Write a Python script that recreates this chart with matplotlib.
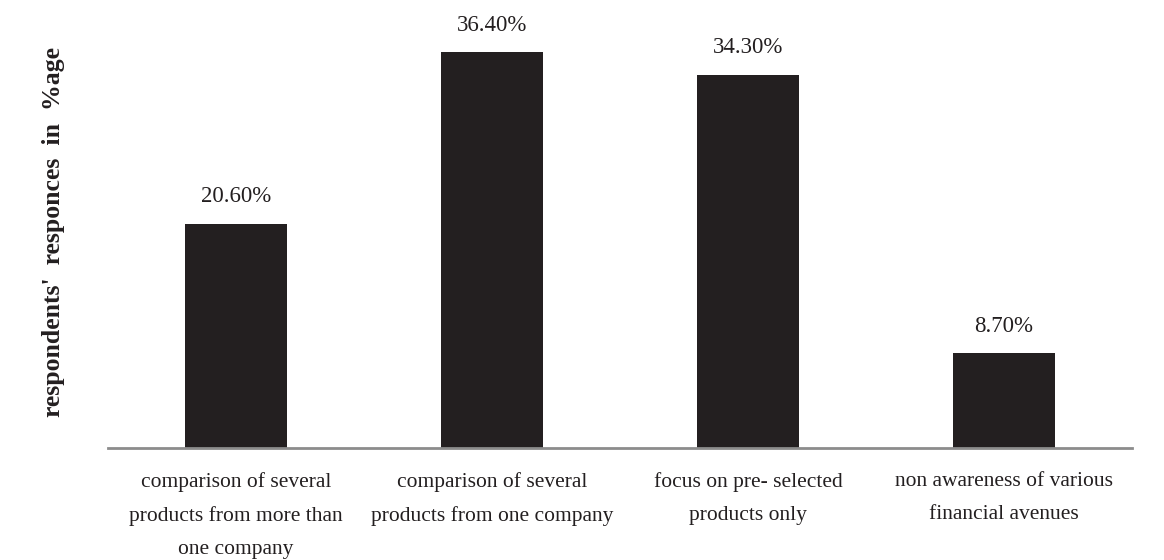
import matplotlib.pyplot as plt
import numpy as np

categories = [
    "comparison of several\nproducts from more than\none company",
    "comparison of several\nproducts from one company",
    "focus on pre- selected\nproducts only",
    "non awareness of various\nfinancial avenues",
]
values = [20.6, 36.4, 34.3, 8.7]
value_labels = ["20.60%", "36.40%", "34.30%", "8.70%"]

plt.rcParams["font.family"] = ["Liberation Serif", "DejaVu Serif"]

fig = plt.figure(figsize=(11.64, 5.6), dpi=100)
ax = fig.add_axes([108 / 1164, 112 / 560, 1024 / 1164, 448 / 560])

x = np.arange(len(values))
bars = ax.bar(x, values, width=0.4, color="#231f20", zorder=2)

for b, lab in zip(bars, value_labels):
    ax.annotate(lab, (b.get_x() + b.get_width() / 2, b.get_height()),
                xytext=(0, 12), textcoords="offset points",
                ha="center", va="bottom", fontsize=16.5, color="#231f20")

ax.set_xlim(-0.5, len(values) - 0.5)
ax.set_ylim(0, 41.2)
ax.set_xticks(x)
ax.set_xticklabels(categories, fontsize=15.5, color="#231f20", linespacing=2.0)
ax.tick_params(axis="x", length=0, pad=17)
ax.set_yticks([])

for s in ["top", "right", "left"]:
    ax.spines[s].set_visible(False)
ax.spines["bottom"].set_color("#8c8c8c")
ax.spines["bottom"].set_linewidth(2)

# label is letter-spaced in the original, so widen the gaps a bit
fig.text(54 / 1164, 1 - 232 / 560, "respondents'  responces  in  %age",
         rotation=90, ha="center", va="center", fontsize=18.5,
         fontweight="bold", color="#231f20")

fig.savefig("out.png", dpi=100)
